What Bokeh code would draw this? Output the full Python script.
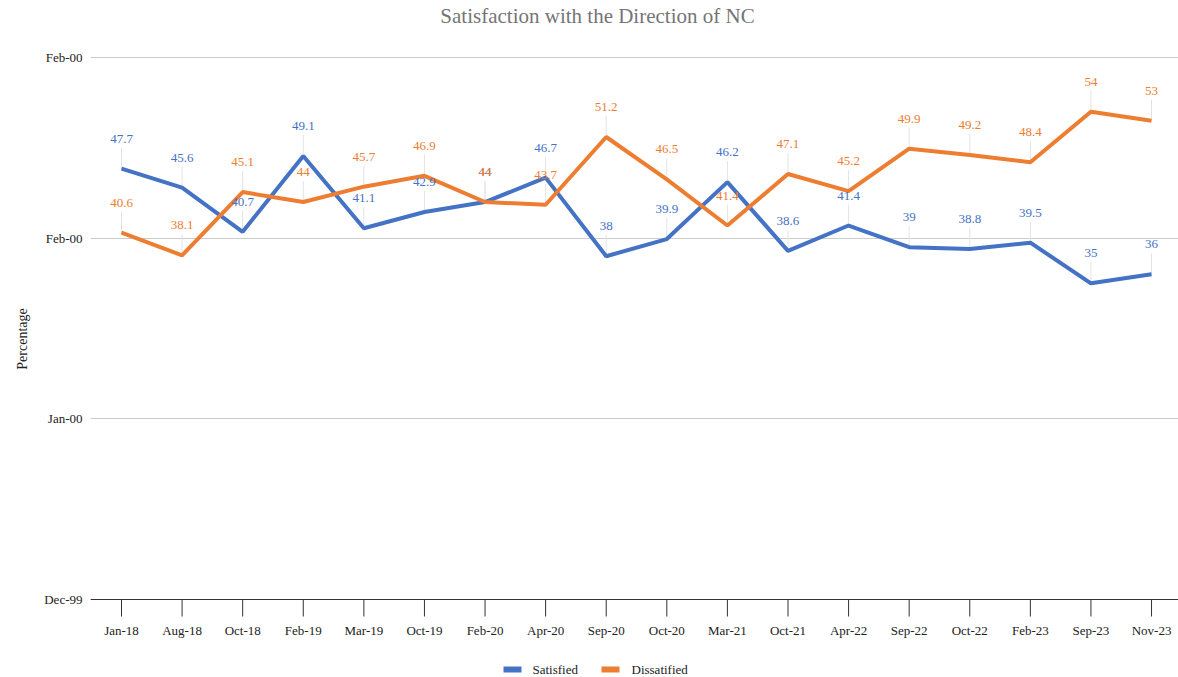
from bokeh.plotting import figure
from bokeh.models import Range1d, FixedTicker, ColumnDataSource, Span, Title
from bokeh.core.properties import value
from bokeh.embed import file_html
from bokeh.resources import INLINE

categories = ["Jan-18", "Aug-18", "Oct-18", "Feb-19", "Mar-19", "Oct-19", "Feb-20", "Apr-20",
              "Sep-20", "Oct-20", "Mar-21", "Oct-21", "Apr-22", "Sep-22", "Oct-22", "Feb-23",
              "Sep-23", "Nov-23"]
satisfied = [47.7, 45.6, 40.7, 49.1, 41.1, 42.9, 44, 46.7, 38, 39.9, 46.2, 38.6, 41.4, 39, 38.8, 39.5, 35, 36]
dissatisfied = [40.6, 38.1, 45.1, 44, 45.7, 46.9, 44, 43.7, 51.2, 46.5, 41.4, 47.1, 45.2, 49.9, 49.2, 48.4, 54, 53]
series_names = ["Satisfied", "Dissatified"]
y_ticks = [0, 20, 40, 60]
y_tick_labels = ["Dec-99", "Jan-00", "Feb-00", "Feb-00"]
title_text = "Satisfaction with the Direction of NC"

BLUE = "#4472C4"
ORANGE = "#ED7D31"
FONT = "Liberation Serif"
TXT = "#222222"

xs = list(range(len(categories)))

# layout (pixels)
LEFT = 90
FRAME_W, FRAME_H = 1088, 677
TOP_PAD = 57          # from canvas top to the 60 gridline
PLOT_H = 542          # from the 60 gridline to the 0 axis
ppu = PLOT_H / 60.0   # pixels per data unit (y)
Y1 = 60 + TOP_PAD / ppu
Y0 = Y1 - FRAME_H / ppu
ppx = 60.59           # pixels per category step
X0 = -31 / ppx
X1 = X0 + FRAME_W / ppx


def px_x(px):
    """canvas pixel x -> data x"""
    return X0 + (px - LEFT) / ppx


def px_y(py):
    """canvas pixel y (from top) -> data y"""
    return Y1 - py / ppu


p = figure(frame_width=FRAME_W, frame_height=FRAME_H, output_backend="svg", toolbar_location=None,
           x_range=Range1d(X0, X1), y_range=Range1d(Y0, Y1),
           x_axis_location=None,
           min_border_left=LEFT, min_border_right=0, min_border_top=0, min_border_bottom=0)
p.outline_line_color = None
p.background_fill_color = "white"
p.border_fill_color = "white"

# y axis
p.yaxis.ticker = FixedTicker(ticks=y_ticks)
p.yaxis.major_label_overrides = {t: l for t, l in zip(y_ticks, y_tick_labels)}
p.yaxis.axis_line_color = None
p.yaxis.major_tick_line_color = None
p.yaxis.minor_tick_line_color = None
p.yaxis.major_label_text_font = FONT
p.yaxis.major_label_text_font_size = "13px"
p.yaxis.major_label_text_color = TXT
p.yaxis.major_label_standoff = 2

ytitle = Title(text="Percentage", align="center", standoff=23,
               text_font=FONT, text_font_size="14px", text_font_style="normal", text_color=TXT)
p.add_layout(ytitle, "left")

p.xgrid.grid_line_color = None
p.ygrid.grid_line_color = "#cccccc"
p.ygrid.grid_line_width = 1

# chart title
p.text(x=[px_x(597)], y=[px_y(15)], text=[title_text], text_align="center", text_baseline="middle",
       text_font=value(FONT), text_font_size="21px", text_color="#757575")

# x axis
p.add_layout(Span(location=0, dimension="width", line_color="#333333", line_width=1))
tick_len = 17 / ppu
p.segment(x0=xs, y0=[0] * len(xs), x1=xs, y1=[-tick_len] * len(xs), line_color="#333333", line_width=1)
p.text(x=xs, y=[-31 / ppu] * len(xs), text=categories, text_align="center", text_baseline="middle",
       text_font=value(FONT), text_font_size="13px", text_color=TXT)

# leader lines
lead = 21 / ppu
lab = 30 / ppu
for vals in (satisfied, dissatisfied):
    p.segment(x0=xs, y0=vals, x1=xs, y1=[v + lead for v in vals], line_color="#e3e3e3", line_width=1)

r_s = p.line(xs, satisfied, line_color=BLUE, line_width=4)
r_d = p.line(xs, dissatisfied, line_color=ORANGE, line_width=4)

for vals, col in ((satisfied, BLUE), (dissatisfied, ORANGE)):
    src = ColumnDataSource(dict(x=xs, y=[v + lab for v in vals], t=[f"{v:g}" for v in vals]))
    p.text(x="x", y="y", text="t", source=src, text_align="center", text_baseline="middle",
           text_font=value(FONT), text_font_size="13px", text_color=col)

# legend (bottom centre)
leg_y = px_y(669)
sw_px = [512, 610]      # swatch centres (canvas px)
lab_px = [532, 631]     # label left edges (canvas px)
p.rect(x=[px_x(v) for v in sw_px], y=[leg_y] * 2, width=18, height=6,
       width_units="screen", height_units="screen", fill_color=[BLUE, ORANGE], line_color=None)
p.text(x=[px_x(v) for v in lab_px], y=[leg_y] * 2, text=series_names, text_align="left",
       text_baseline="middle", text_font=value(FONT), text_font_size="13px", text_color=TXT)

open("out.html", "w").write(file_html(p, INLINE))
